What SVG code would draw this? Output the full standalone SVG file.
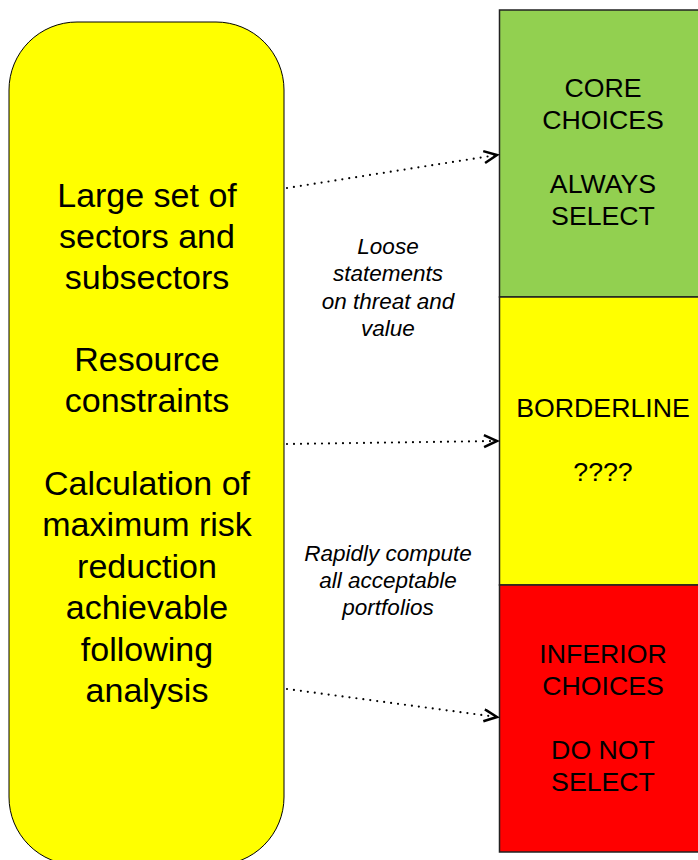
<svg xmlns="http://www.w3.org/2000/svg" width="698" height="860" viewBox="0 0 698 860">
<style>
.big{font-family:"Liberation Sans",Arial,sans-serif;font-size:34px;fill:#000;text-anchor:middle}
.box{font-family:"Liberation Sans",Arial,sans-serif;font-size:26.7px;fill:#000;text-anchor:middle}
.lab{font-family:"Liberation Sans",Arial,sans-serif;font-size:22.5px;font-style:italic;fill:#000;text-anchor:middle}
.conn{fill:none;stroke:#000;stroke-width:2.2;stroke-dasharray:0 7;stroke-linecap:round}
</style>
<defs>
<marker id="arr" markerWidth="20" markerHeight="20" refX="14" refY="7" orient="auto" markerUnits="userSpaceOnUse">
<path d="M1,1 L14,7 L1,13" fill="none" stroke="#000" stroke-width="2.5"/>
</marker>
</defs>
<rect width="698" height="860" fill="#fff"/>
<g id="left">
<rect x="9" y="22" width="275" height="843" rx="68" ry="68" fill="#ffff00" stroke="#000" stroke-width="1"/>
<text class="big"><tspan x="147" y="207">Large set of</tspan><tspan x="147" y="248">sectors and</tspan><tspan x="147" y="289">subsectors</tspan><tspan x="147" y="371">Resource</tspan><tspan x="147" y="412">constraints</tspan><tspan x="147" y="495">Calculation of</tspan><tspan x="147" y="536">maximum risk</tspan><tspan x="147" y="578">reduction</tspan><tspan x="147" y="619">achievable</tspan><tspan x="147" y="661">following</tspan><tspan x="147" y="702">analysis</tspan></text>
</g>
<g id="core">
<rect x="499.5" y="10" width="210" height="287" fill="#92d050" stroke="#222" stroke-width="1.5"/>
<text class="box"><tspan x="603" y="97">CORE</tspan><tspan x="603" y="129">CHOICES</tspan><tspan x="603" y="193">ALWAYS</tspan><tspan x="603" y="225">SELECT</tspan></text>
</g>
<g id="borderline">
<rect x="499.5" y="297" width="210" height="288" fill="#ffff00" stroke="#222" stroke-width="1.5"/>
<text class="box"><tspan x="603" y="417">BORDERLINE</tspan><tspan x="603" y="481">????</tspan></text>
</g>
<g id="inferior">
<rect x="499.5" y="585" width="210" height="267" fill="#ff0000" stroke="#222" stroke-width="1.5"/>
<text class="box"><tspan x="603" y="663">INFERIOR</tspan><tspan x="603" y="695">CHOICES</tspan><tspan x="603" y="759">DO NOT</tspan><tspan x="603" y="791">SELECT</tspan></text>
</g>
<g id="connectors">
<line class="conn" x1="287" y1="188" x2="497" y2="155" marker-end="url(#arr)"/>
<line class="conn" x1="287" y1="444" x2="497" y2="441" marker-end="url(#arr)"/>
<line class="conn" x1="287" y1="689" x2="497" y2="717" marker-end="url(#arr)"/>
</g>
<g id="labels">
<text class="lab"><tspan x="388" y="254">Loose</tspan><tspan x="388" y="281">statements</tspan><tspan x="388" y="309">on threat and</tspan><tspan x="388" y="336">value</tspan></text>
<text class="lab"><tspan x="388" y="561">Rapidly compute</tspan><tspan x="388" y="588">all acceptable</tspan><tspan x="388" y="615">portfolios</tspan></text>
</g>
</svg>
